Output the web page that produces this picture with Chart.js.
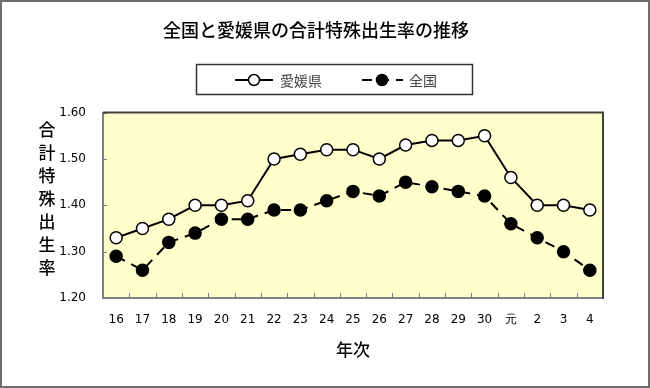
<!DOCTYPE html>
<html>
<head>
<meta charset="utf-8">
<script src="https://cdn.jsdelivr.net/npm/chart.js@4"></script>
<style>
  body { margin: 0; background: #fff; }
</style>
</head>
<body>
<canvas id="chart" width="650" height="388"></canvas>
<script>
// 年次 (平成16年〜令和4年)
const years = ["16", "17", "18", "19", "20", "21", "22", "23", "24", "25", "26", "27", "28", "29", "30", "元", "2", "3", "4"];
const ehime = [1.33, 1.35, 1.37, 1.40, 1.40, 1.41, 1.50, 1.51, 1.52, 1.52, 1.50, 1.53, 1.54, 1.54, 1.55, 1.46, 1.40, 1.40, 1.39];
const zenkoku = [1.29, 1.26, 1.32, 1.34, 1.37, 1.37, 1.39, 1.39, 1.41, 1.43, 1.42, 1.45, 1.44, 1.43, 1.42, 1.36, 1.33, 1.30, 1.26];
const yTitle = "合計特殊出生率";

const jpFont = "'Noto Sans CJK JP', 'Noto Sans', sans-serif";
const numFont = "'DejaVu Sans', Verdana, sans-serif";

// plot area background + frame + inside ticks
const framePlugin = {
    id: "frame",
    beforeDraw(chart) {
        const ctx = chart.ctx;
        const a = chart.chartArea;
        ctx.save();
        ctx.fillStyle = "#ffffcc";
        ctx.fillRect(a.left, a.top, a.right - a.left, a.bottom - a.top);
        ctx.restore();
    },
    afterDatasetsDraw(chart) {
        const ctx = chart.ctx;
        const a = chart.chartArea;
        const ys = chart.scales.y;
        ctx.save();
        // tick marks pointing inside
        ctx.strokeStyle = "#808080";
        ctx.lineWidth = 1;
        const n = years.length;
        const w = (a.right - a.left) / n;
        for (let i = 1; i < n; i++) {
            const x = Math.round(a.left + i * w) + 0.5;
            ctx.beginPath();
            ctx.moveTo(x, a.bottom);
            ctx.lineTo(x, a.bottom - 5);
            ctx.stroke();
        }
        ys.ticks.forEach(t => {
            const y = Math.round(ys.getPixelForValue(t.value)) + 0.5;
            ctx.beginPath();
            ctx.moveTo(a.left, y);
            ctx.lineTo(a.left + 4, y);
            ctx.stroke();
        });
        // top / right border (dark)
        ctx.strokeStyle = "#404040";
        ctx.lineWidth = 2;
        ctx.beginPath();
        ctx.moveTo(a.left, a.top);
        ctx.lineTo(a.right, a.top);
        ctx.lineTo(a.right, a.bottom + 1);
        ctx.stroke();
        ctx.restore();
    },
    afterDraw(chart) {
        const ctx = chart.ctx;
        ctx.save();
        // vertical y title, one character per row
        ctx.fillStyle = "#000";
        ctx.font = "500 17px " + jpFont;
        ctx.textAlign = "center";
        ctx.textBaseline = "middle";
        [...yTitle].forEach((c, i) => ctx.fillText(c, 47, 130 + i * 23));

        // legend box
        ctx.strokeStyle = "#333";
        ctx.lineWidth = 1.5;
        ctx.strokeRect(196.5, 64.5, 276, 30);
        const ly = 80;
        const items = [
            { x1: 235, x2: 273, mx: 254, tx: 280, ds: chart.data.datasets[0] },
            { x1: 362, x2: 403, mx: 382, tx: 409, ds: chart.data.datasets[1] }
        ];
        items.forEach(it => {
            ctx.strokeStyle = "#000";
            ctx.lineWidth = 2;
            ctx.setLineDash(it.ds.borderDash || []);
            ctx.beginPath();
            ctx.moveTo(it.x1, ly);
            ctx.lineTo(it.x2, ly);
            ctx.stroke();
            ctx.setLineDash([]);
            ctx.beginPath();
            ctx.arc(it.mx, ly, 5.5, 0, Math.PI * 2);
            ctx.fillStyle = it.ds.pointBackgroundColor;
            ctx.fill();
            ctx.lineWidth = 1.5;
            ctx.stroke();
            ctx.fillStyle = "#444";
            ctx.font = "14px " + jpFont;
            ctx.textAlign = "left";
            ctx.fillText(it.ds.label, it.tx, ly + 1);
        });

        // outer frame
        ctx.strokeStyle = "#6e6e6e";
        ctx.lineWidth = 2;
        ctx.strokeRect(1, 1, 648, 386);
        ctx.restore();
    }
};

new Chart(document.getElementById("chart").getContext("2d"), {
    type: "line",
    data: {
        labels: years,
        datasets: [{
            label: "愛媛県",
            data: ehime,
            borderColor: "#000",
            borderWidth: 2,
            pointRadius: 6,
            pointBorderWidth: 1.5,
            pointBackgroundColor: "#fff",
            pointBorderColor: "#000",
            tension: 0
        }, {
            label: "全国",
            data: zenkoku,
            borderColor: "#000",
            borderWidth: 2,
            borderDash: [10, 7],
            pointRadius: 6,
            pointBorderWidth: 1.5,
            pointBackgroundColor: "#000",
            pointBorderColor: "#000",
            tension: 0
        }]
    },
    options: {
        responsive: false,
        animation: false,
        layout: { padding: { left: 29, right: 47, top: 0, bottom: 0 } },
        plugins: {
            legend: { display: false },
            tooltip: { enabled: false },
            title: {
                display: true,
                text: "全国と愛媛県の合計特殊出生率の推移",
                color: "#000",
                font: { family: jpFont, size: 18, weight: "500" },
                padding: { top: 19, bottom: 72 }
            }
        },
        scales: {
            x: {
                offset: true,
                grid: { display: false, drawTicks: false },
                border: { color: "#808080", width: 2 },
                ticks: {
                    color: "#000",
                    padding: 15,
                    autoSkip: false,
                    maxRotation: 0,
                    font: { family: numFont, size: 12 }
                },
                title: {
                    display: true,
                    text: "年次",
                    color: "#000",
                    font: { family: jpFont, size: 17, weight: "500" },
                    padding: { top: 0, bottom: 28 }
                },
                afterFit: s => { s.height = 90; }
            },
            y: {
                min: 1.2,
                max: 1.6,
                grid: { display: false, drawTicks: false },
                border: { color: "#808080", width: 2 },
                ticks: {
                    stepSize: 0.1,
                    color: "#000",
                    padding: 17,
                    font: { family: numFont, size: 12 },
                    callback: v => v.toFixed(2)
                },
                afterFit: s => { s.width = 74; }
            }
        }
    },
    plugins: [framePlugin]
});
</script>
</body>
</html>
